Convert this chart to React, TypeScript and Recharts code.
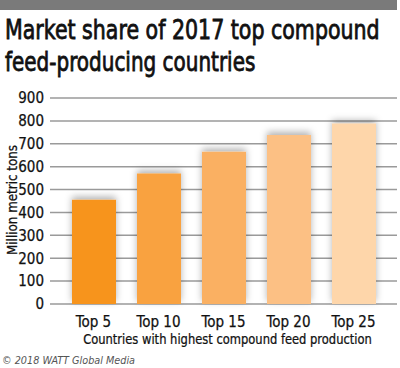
import { BarChart, Bar, XAxis, YAxis, CartesianGrid, Cell } from 'recharts';

const categories = ['Top 5', 'Top 10', 'Top 15', 'Top 20', 'Top 25'];
const tons = [455, 570, 665, 738, 789];
const barColors = ['#F7941D', '#F9A23F', '#FAB062', '#FCC084', '#FED6AA'];
const yTicks = [0, 100, 200, 300, 400, 500, 600, 700, 800, 900];

const chartData = categories.map((name, i) => ({ name, value: tons[i] }));

const FONT = '"DejaVu Sans Condensed", "Liberation Sans Narrow", "DejaVu Sans", sans-serif';

export default function App() {
  return (
    <div style={{ position: 'absolute', left: 0, top: 0, width: 400, height: 368, background: '#fff', fontFamily: FONT }}>
      <svg width={0} height={0} style={{ position: 'absolute' }}>
        <defs>
          <filter id="barShadow" x="-30%" y="-30%" width="160%" height="160%">
            <feDropShadow dx="0" dy="-3" stdDeviation="3.5" floodColor="#000" floodOpacity="0.3" />
          </filter>
        </defs>
      </svg>
      <BarChart
        width={400}
        height={368}
        data={chartData}
        margin={{ top: 98, right: 3, bottom: 34, left: 0 }}
        barSize={44}
      >
        <CartesianGrid vertical={false} stroke="#9a9a9a" strokeWidth={1.5} />
        <XAxis
          dataKey="name"
          axisLine={false}
          tickLine={false}
          height={30}
          padding={{ left: 11, right: 11 }}
          tick={{ fill: '#111', fontSize: 15, fontFamily: FONT, stroke: '#111', strokeWidth: 0.25 }}
          dy={4}
        />
        <YAxis
          domain={[0, 900]}
          ticks={yTicks}
          width={50}
          axisLine={false}
          tickLine={false}
          tick={{ fill: '#111', fontSize: 15, fontFamily: FONT, stroke: '#111', strokeWidth: 0.25 }}
          dx={2}
          interval={0}
        />
        <Bar dataKey="value" isAnimationActive={false} style={{ filter: 'url(#barShadow)' }}>
          {chartData.map((d, i) => (
            <Cell key={d.name} fill={barColors[i]} />
          ))}
        </Bar>
      </BarChart>
      <svg width={400} height={368} style={{ position: 'absolute', left: 0, top: 0, pointerEvents: 'none' }}>
        <rect x={0} y={0} width={397} height={10} fill="#7a7a7a" />
        <g fill="#111" stroke="#111" strokeWidth={0.8} fontFamily={FONT} fontSize={27}>
          <g transform="translate(5,39) scale(0.84,1)">
            <text x={0} y={0} textLength={446} lengthAdjust="spacingAndGlyphs">
              Market share of 2017 top compound
            </text>
          </g>
          <g transform="translate(5,71) scale(0.84,1)">
            <text x={0} y={0} textLength={298} lengthAdjust="spacingAndGlyphs">
              feed-producing countries
            </text>
          </g>
        </g>
        <text
          x={0}
          y={0}
          transform="translate(17,200) rotate(-90)"
          textAnchor="middle"
          fontSize={14}
          fill="#111"
          stroke="#111"
          strokeWidth={0.25}
          fontFamily={FONT}
          textLength={110}
          lengthAdjust="spacingAndGlyphs"
        >
          Million metric tons
        </text>
        <g transform="translate(227.5,344) scale(0.88,1)">
          <text x={0} y={0} textAnchor="middle" fontSize={14.5} fill="#111" stroke="#111" strokeWidth={0.25} fontFamily={FONT} textLength={328} lengthAdjust="spacingAndGlyphs">
            Countries with highest compound feed production
          </text>
        </g>
        <text x={2} y={364} fontSize={11} fontStyle="italic" fill="#555" fontFamily={FONT} textLength={133} lengthAdjust="spacingAndGlyphs">
          © 2018 WATT Global Media
        </text>
      </svg>
    </div>
  );
}
